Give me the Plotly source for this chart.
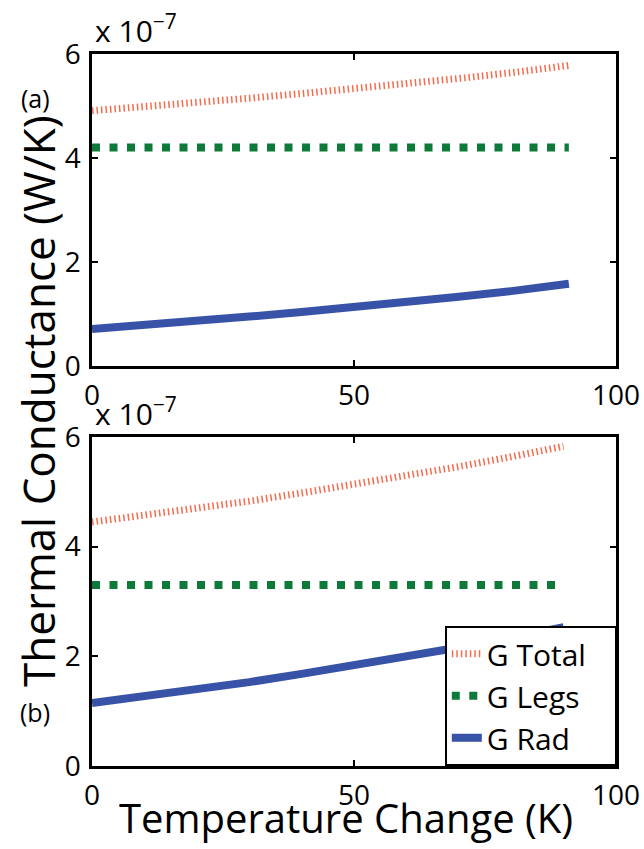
import plotly.graph_objects as go

# Temperature change (K) sample points for each panel
dT_a = [0, 10, 20, 30, 40, 50, 60, 70, 80, 91]
dT_b = [0, 10, 20, 30, 40, 50, 60, 70, 80, 90]

# Thermal conductances in units of 1e-7 W/K
g_total_a = [4.91, 4.98, 5.06, 5.15, 5.24, 5.33, 5.43, 5.53, 5.64, 5.78]
g_legs_a = [4.20, 4.20, 4.20, 4.20, 4.20, 4.20, 4.20, 4.20, 4.20, 4.20]
g_rad_a = [0.71, 0.78, 0.86, 0.95, 1.04, 1.13, 1.23, 1.33, 1.44, 1.58]

g_total_b = [4.45, 4.57, 4.70, 4.83, 4.98, 5.13, 5.29, 5.46, 5.64, 5.83]
g_legs_b = [3.30, 3.30, 3.30, 3.30, 3.30, 3.30, 3.30, 3.30, 3.30, 3.30]
g_rad_b = [1.15, 1.27, 1.40, 1.53, 1.68, 1.83, 1.99, 2.16, 2.34, 2.53]

SCALE = 1e-7
y_ticks = [0, 2, 4, 6]
x_ticks = [0, 50, 100]

FONT = "Open Sans"
RED = "rgb(244,108,78)"
GREEN = "rgb(14,122,58)"
BLUE = "rgb(56,82,168)"
PAD = "&nbsp;" * 3  # extra room on the right of legend entries

fig = go.Figure()


def add_panel(dT, tot, legs, rad, xa, ya, show):
    fig.add_trace(go.Scatter(
        x=dT, y=[v * SCALE for v in tot], mode="lines", name="G Total" + PAD,
        line=dict(color=RED, width=7, dash="1.5px,3px"),
        xaxis=xa, yaxis=ya, showlegend=show, legendgroup="t"))
    fig.add_trace(go.Scatter(
        x=dT, y=[v * SCALE for v in legs], mode="lines", name="G Legs" + PAD,
        line=dict(color=GREEN, width=8, dash="8px,9.5px"),
        xaxis=xa, yaxis=ya, showlegend=show, legendgroup="l"))
    fig.add_trace(go.Scatter(
        x=dT, y=[v * SCALE for v in rad], mode="lines", name="G Rad" + PAD,
        line=dict(color=BLUE, width=8),
        xaxis=xa, yaxis=ya, showlegend=show, legendgroup="r"))


add_panel(dT_a, g_total_a, g_legs_a, g_rad_a, "x", "y", False)
add_panel(dT_b, g_total_b, g_legs_b, g_rad_b, "x2", "y2", True)

W, H = 644, 849
x_dom = [92 / W, 616 / W]
top_dom = [1 - 366 / H, 1 - 54 / H]
bot_dom = [1 - 766 / H, 1 - 437 / H]

axis_common = dict(
    showline=True, linecolor="black", linewidth=2.5, mirror="ticks",
    ticks="inside", ticklen=6, tickwidth=2, tickcolor="black",
    showgrid=False, zeroline=False, automargin=False,
    tickfont=dict(family=FONT, size=28, color="black"),
)

xa = dict(axis_common, range=[0, 100], tickvals=x_ticks,
          ticktext=[str(v) for v in x_ticks], domain=x_dom,
          ticklabelstandoff=3)
ya = dict(axis_common, range=[0, 6 * SCALE],
          tickvals=[v * SCALE for v in y_ticks],
          ticktext=[str(v) for v in y_ticks], ticklabelstandoff=3)

fig.update_layout(
    width=W, height=H,
    margin=dict(l=0, r=0, t=0, b=0, autoexpand=False),
    paper_bgcolor="white", plot_bgcolor="white",
    xaxis=dict(xa, anchor="y"),
    yaxis=dict(ya, domain=top_dom, anchor="x"),
    xaxis2=dict(xa, anchor="y2"),
    yaxis2=dict(ya, domain=bot_dom, anchor="x2"),
    showlegend=True,
    legend=dict(
        x=617 / W, y=1 - 766 / H, xanchor="right", yanchor="bottom",
        bgcolor="white", bordercolor="black", borderwidth=1.8,
        font=dict(family=FONT, size=30, color="black"),
        tracegroupgap=0, traceorder="grouped",
    ),
)

# Axis titles
fig.add_annotation(
    text="Temperature Change (K)",
    x=346 / W, y=1 - 847 / H, xref="paper", yref="paper",
    xanchor="center", yanchor="bottom",
    showarrow=False, font=dict(family=FONT, size=40, color="black"))
fig.add_annotation(
    text="Thermal Conductance (W/K)", textangle=-90,
    x=38 / W, y=1 - 401 / H, xref="paper", yref="paper",
    xanchor="center", yanchor="middle",
    showarrow=False, font=dict(family=FONT, size=44, color="black"))

# Exponent multipliers and panel labels
for ytop in (54, 437):
    fig.add_annotation(
        text="x 10<sup>\u22127</sup>", x=93 / W, y=1 - (ytop - 1) / H,
        xref="paper", yref="paper", xanchor="left", yanchor="bottom",
        showarrow=False, font=dict(family=FONT, size=30, color="black"))

for lab, yc in (("(a)", 98), ("(b)", 712)):
    fig.add_annotation(
        text=lab, x=35 / W, y=1 - yc / H, xref="paper", yref="paper",
        xanchor="center", yanchor="middle",
        showarrow=False, font=dict(family=FONT, size=25, color="black"))

fig.write_html("out.html")
